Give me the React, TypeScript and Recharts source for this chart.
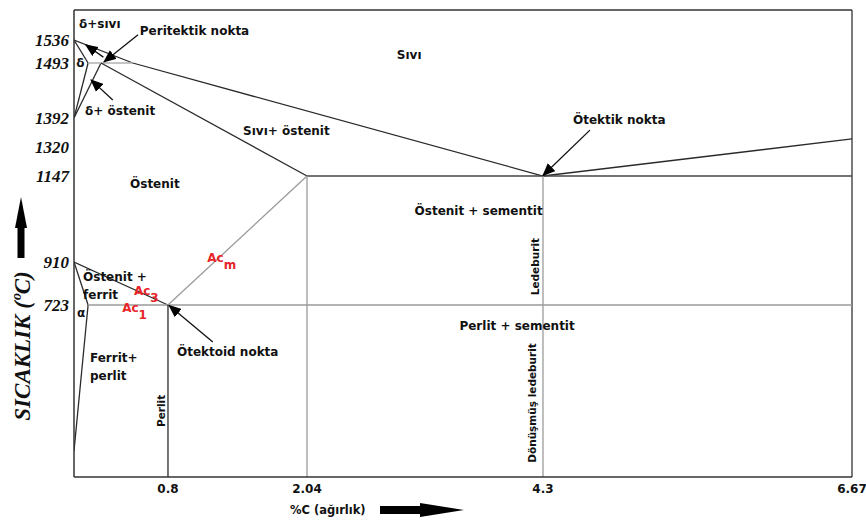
import { ComposedChart, Line, Scatter, XAxis, YAxis, ReferenceLine, Label } from 'recharts';

// Fe-Fe3C diagram, drawn like the textbook sketch (axes are not to scale)
const carbonTicks = [0.8, 2.04, 4.3, 6.67];
const tempTicks = [723, 910, 1147, 1320, 1392, 1493, 1536];

// the sketch stretches some ranges: value -> share of the axis
const carbonKnots = [0, 0.8, 2.04, 4.3, 6.67];
const carbonShare = [0, 0.1208, 0.2995, 0.6028, 1];
const tempKnots = [0, 100, 723, 910, 1147, 1320, 1392, 1493, 1536, 1600];
const tempShare = [0, 0.0557, 0.3683, 0.4604, 0.6445, 0.7066, 0.7687, 0.8865, 0.9358, 1];

// phase boundaries (c = %C, t = °C)
const liquidus = [{ c: 0, t: 1536 }, { c: 0.5, t: 1493 }, { c: 4.3, t: 1147 }];
const liquidusCem = [{ c: 4.3, t: 1147 }, { c: 6.67, t: 1340 }];
const deltaLiq = [{ c: 0, t: 1536 }, { c: 0.12, t: 1493 }];
const deltaSolvus = [{ c: 0.12, t: 1493 }, { c: 0, t: 1392 }];
const gammaStart = [{ c: 0, t: 1392 }, { c: 0.23, t: 1493 }];
const peritectic = [{ c: 0.12, t: 1493 }, { c: 0.5, t: 1493 }];
const solidus = [{ c: 0.23, t: 1493 }, { c: 2.04, t: 1147 }];
const eutectic = [{ c: 2.04, t: 1147 }, { c: 6.67, t: 1147 }];
const a3 = [{ c: 0, t: 910 }, { c: 0.8, t: 723 }];
const alphaTop = [{ c: 0, t: 910 }, { c: 0.12, t: 723 }];
const alphaSolvus = [{ c: 0.12, t: 723 }, { c: 0, t: 100 }];
const a1 = [{ c: 0.12, t: 723 }, { c: 6.67, t: 723 }];
const acm = [{ c: 0.8, t: 723 }, { c: 2.04, t: 1147 }];
const eutectoidV = [{ c: 0.8, t: 723 }, { c: 0.8, t: 0 }];
const eV = [{ c: 2.04, t: 1147 }, { c: 2.04, t: 0 }];
const cV = [{ c: 4.3, t: 1147 }, { c: 4.3, t: 0 }];

// annotation arrows (tail -> tip)
const arrowDeltaLiq = [{ c: 0.25, t: 1504 }, { c: 0.1, t: 1527 }];
const arrowPeritectic = [{ c: 0.545, t: 1547 }, { c: 0.255, t: 1495 }];
const arrowDeltaGamma = [{ c: 0.33, t: 1425 }, { c: 0.145, t: 1462 }];
const arrowEutectic = [{ c: 4.66, t: 1362 }, { c: 4.3, t: 1150 }];
const arrowEutectoid = [{ c: 1.2, t: 565 }, { c: 0.81, t: 721 }];

const regionLabels = [
  { c: 0.043, t: 1570, text: 'δ+sıvı' },
  { c: 0.56, t: 1555, text: 'Peritektik nokta' },
  { c: 0.02, t: 1493, text: 'δ' },
  { c: 0.094, t: 1405, text: 'δ+ östenit' },
  { c: 2.9, t: 1508, text: 'Sıvı' },
  { c: 1.47, t: 1360, text: 'Sıvı+ östenit' },
  { c: 4.53, t: 1387, text: 'Ötektik nokta' },
  { c: 0.477, t: 1125, text: 'Östenit' },
  { c: 3.07, t: 1051, text: 'Östenit + sementit' },
  { c: 0.077, t: 845, text: 'Östenit +' },
  { c: 0.077, t: 766, text: 'ferrit' },
  { c: 0.026, t: 689, text: 'α' },
  { c: 3.5, t: 633, text: 'Perlit + sementit' },
  { c: 0.88, t: 522, text: 'Ötektoid nokta' },
  { c: 0.136, t: 497, text: 'Ferrit+' },
  { c: 0.136, t: 420, text: 'perlit' },
];

const criticalLabels = [
  { c: 1.15, t: 921, text: 'Ac', sub: 'm' },
  { c: 0.51, t: 782, text: 'Ac', sub: '3' },
  { c: 0.41, t: 710, text: 'Ac', sub: '1' },
];

const verticalLabels = [
  { c: 4.22, t: 890, text: 'Ledeburit' },
  { c: 0.74, t: 271, text: 'Perlit' },
  { c: 4.195, t: 305, text: 'Dönüşmüş ledeburit' },
];

const DARK = '#2a2a2a';
const GRAY = '#9a9a9a';
const SANS = 'DejaVu Sans';

const boundaries = [
  { key: 'liq', data: liquidus, color: DARK },
  { key: 'liqCem', data: liquidusCem, color: DARK },
  { key: 'dLiq', data: deltaLiq, color: DARK },
  { key: 'dSol', data: deltaSolvus, color: DARK },
  { key: 'gStart', data: gammaStart, color: DARK },
  { key: 'perit', data: peritectic, color: '#b0b0b0' },
  { key: 'sol', data: solidus, color: DARK },
  { key: 'eut', data: eutectic, color: '#444' },
  { key: 'a3', data: a3, color: DARK },
  { key: 'aTop', data: alphaTop, color: DARK },
  { key: 'aSol', data: alphaSolvus, color: DARK },
  { key: 'a1', data: a1, color: GRAY },
  { key: 'acm', data: acm, color: GRAY },
  { key: 'v08', data: eutectoidV, color: DARK },
  { key: 'v204', data: eV, color: GRAY },
  { key: 'v43', data: cV, color: GRAY },
];

const arrows = [arrowDeltaLiq, arrowPeritectic, arrowDeltaGamma, arrowEutectic, arrowEutectoid];

function makeScale(knots: number[], share: number[]): any {
  let dom = [knots[0], knots[knots.length - 1]];
  let rng = [0, 1];
  const toShare = (v: number) => {
    let i = 0;
    while (i < knots.length - 2 && v > knots[i + 1]) i += 1;
    const k = (v - knots[i]) / (knots[i + 1] - knots[i]);
    return share[i] + k * (share[i + 1] - share[i]);
  };
  const scale: any = (v: any) => rng[0] + (rng[rng.length - 1] - rng[0]) * toShare(Number(v));
  scale.domain = (d?: any[]) => {
    if (!d) return dom.slice();
    dom = d.slice();
    return scale;
  };
  scale.range = (r?: number[]) => {
    if (!r) return rng.slice();
    rng = r.slice();
    return scale;
  };
  scale.copy = () => makeScale(knots, share).domain(dom).range(rng);
  scale.ticks = () => knots.slice();
  scale.invert = (p: number) => {
    const f = (p - rng[0]) / (rng[rng.length - 1] - rng[0]);
    let i = 0;
    while (i < share.length - 2 && f > share[i + 1]) i += 1;
    const k = (f - share[i]) / (share[i + 1] - share[i]);
    return knots[i] + k * (knots[i + 1] - knots[i]);
  };
  return scale;
}

const carbonScale = makeScale(carbonKnots, carbonShare);
const tempScale = makeScale(tempKnots, tempShare);

function RegionText(props: any) {
  const { cx, cy, payload } = props;
  return (
    <text x={cx} y={cy} dominantBaseline="central" fontFamily={SANS} fontSize={12} fontWeight={700} fill="#111">
      {payload.text}
    </text>
  );
}

function CriticalText(props: any) {
  const { cx, cy, payload } = props;
  return (
    <text x={cx} y={cy} dominantBaseline="central" fontFamily={SANS} fontSize={12} fontWeight={700} fill="#e8262a">
      {payload.text}
      <tspan dy={7}>{payload.sub}</tspan>
    </text>
  );
}

function VerticalText(props: any) {
  const { cx, cy, payload } = props;
  return (
    <text
      x={cx}
      y={cy}
      transform={`rotate(-90 ${cx} ${cy})`}
      textAnchor="middle"
      dominantBaseline="central"
      fontFamily={SANS}
      fontSize={10.5}
      fontWeight={700}
      fill="#111"
    >
      {payload.text}
    </text>
  );
}

function TempTitle(props: any) {
  const vb = props.viewBox || { x: 14, y: 10 };
  const x = vb.x + 7;
  const top = vb.y + 187;
  return (
    <g>
      <polygon points={`${x},${top} ${x - 6},${top + 31} ${x + 6},${top + 31}`} fill="#000" />
      <rect x={x - 3.5} y={top + 30} width={7} height={31} fill="#000" />
      <text
        x={x + 1}
        y={vb.y + 336}
        transform={`rotate(-90 ${x + 1} ${vb.y + 336})`}
        textAnchor="middle"
        dominantBaseline="central"
        fontFamily="Liberation Serif"
        fontStyle="italic"
        fontWeight={700}
        fontSize={23}
        fill="#111"
      >
        SICAKLIK (ºC)
      </text>
    </g>
  );
}

function CarbonTitle(props: any) {
  const vb = props.viewBox || { x: 74, y: 477 };
  const y = vb.y + 33;
  const x0 = vb.x + 306;
  return (
    <g>
      <text x={vb.x + 216} y={y} dominantBaseline="central" fontFamily={SANS} fontSize={11.5} fontWeight={700} fill="#111">
        %C (ağırlık)
      </text>
      <rect x={x0} y={y - 4} width={44} height={8} fill="#000" />
      <polygon points={`${x0 + 40},${y - 7} ${x0 + 84},${y} ${x0 + 40},${y + 7}`} fill="#000" />
    </g>
  );
}

export default function App() {
  return (
    <div style={{ position: 'absolute', left: 0, top: 0, width: 866, height: 520, background: '#fff' }}>
      <ComposedChart width={866} height={520} margin={{ top: 10, right: 14, bottom: 13, left: 14 }}>
        <defs>
          <marker
            id="arrowHead"
            viewBox="0 0 12 10"
            refX={11}
            refY={5}
            markerWidth={13}
            markerHeight={11}
            markerUnits="userSpaceOnUse"
            orient="auto"
          >
            <path d="M0,0 L12,5 L0,10 z" fill="#000" />
          </marker>
        </defs>
        <XAxis
          type="number"
          dataKey="c"
          domain={[0, 6.67]}
          scale={carbonScale}
          ticks={carbonTicks}
          interval={0}
          height={30}
          tickLine={false}
          tickSize={3}
          tickMargin={4}
          axisLine={{ stroke: '#333', strokeWidth: 1.5 }}
          tick={{ fontFamily: SANS, fontSize: 12, fontWeight: 700, fill: '#111' }}
          allowDataOverflow
        >
          <Label content={CarbonTitle} />
        </XAxis>
        <YAxis
          type="number"
          dataKey="t"
          domain={[0, 1600]}
          scale={tempScale}
          ticks={tempTicks}
          interval={0}
          width={60}
          tickLine={false}
          tickSize={2}
          tickMargin={3}
          axisLine={{ stroke: '#333', strokeWidth: 1.5 }}
          tick={{ fontFamily: 'Liberation Serif', fontStyle: 'italic', fontSize: 17, fontWeight: 700, fill: '#111' }}
          allowDataOverflow
        >
          <Label content={TempTitle} />
        </YAxis>
        <ReferenceLine y={1600} stroke="#333" strokeWidth={1.3} />
        <ReferenceLine x={6.67} stroke="#333" strokeWidth={1.3} />
        {boundaries.map((b) => (
          <Line
            key={b.key}
            data={b.data}
            dataKey="t"
            type="linear"
            stroke={b.color}
            strokeWidth={1.3}
            dot={false}
            activeDot={false}
            isAnimationActive={false}
          />
        ))}
        {arrows.map((a, i) => (
          <Line
            key={`arrow${i}`}
            data={a}
            dataKey="t"
            type="linear"
            stroke="#111"
            strokeWidth={1.3}
            dot={false}
            activeDot={false}
            markerEnd="url(#arrowHead)"
            isAnimationActive={false}
          />
        ))}
        <Scatter data={regionLabels} shape={RegionText} isAnimationActive={false} />
        <Scatter data={criticalLabels} shape={CriticalText} isAnimationActive={false} />
        <Scatter data={verticalLabels} shape={VerticalText} isAnimationActive={false} />
      </ComposedChart>
    </div>
  );
}
